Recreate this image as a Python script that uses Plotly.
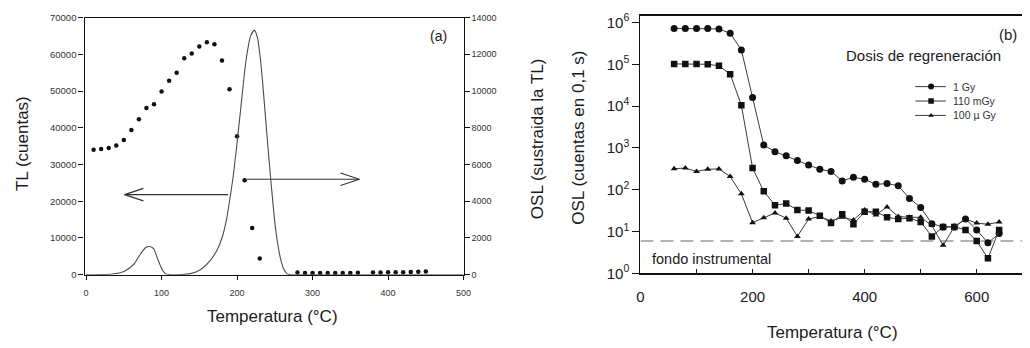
import plotly.graph_objects as go

W, H = 1030, 348
FONT = "Liberation Sans, Arial, sans-serif"
INK = "#1b1b1b"

# ---------------- Panel (a) data ----------------
tl_temp = [10, 20, 30, 40, 50, 60, 70, 80, 90, 100, 110, 120, 130, 140, 150, 160,
           170, 180, 190, 200, 210, 220, 230,
           280, 290, 300, 310, 320, 330, 340, 350, 360,
           380, 390, 400, 410, 420, 430, 440, 450]
tl_counts = [34000, 34200, 34500, 35200, 36700, 39400, 42300, 45400, 46400, 49900,
             52800, 55000, 58900, 60200, 62100, 63300, 62700, 58300, 50500, 37700,
             25700, 12700, 4400,
             600, 500, 450, 500, 500, 500, 500, 500, 550,
             600, 600, 650, 700, 700, 750, 800, 850]

osl_temp = [0, 20, 35, 45, 50, 57, 64, 72, 79, 84, 88, 90, 94, 97, 99, 102, 105, 110,
            120, 130, 138, 147, 155, 164, 173, 180, 186, 190, 195, 199, 205, 212, 218,
            223, 227, 231, 234, 238, 241, 245, 251, 255, 258, 262, 266, 272, 300, 400, 500]
osl_counts = [0, 10, 40, 110, 170, 350, 610, 1130, 1480, 1540, 1470, 1390, 950, 640, 430,
              200, 60, 10, 0, 20, 60, 180, 380, 750, 1300, 2000, 3000, 4000, 5400, 6800,
              9100, 11700, 13000, 13300, 12900, 11700, 10400, 8400, 6900, 5000, 2500,
              1400, 800, 300, 60, 0, 0, 0, 0]

# Arrows of panel (a): (tail temperature, head temperature, TL level)
arrow_left = (188, 51, 21800)
arrow_right = (213, 362, 26000)
arrow_arm_t = 25      # arm length of the open head, in deg C
arrow_arm_tl = 1700   # arm half-spread, in TL counts

# ---------------- Panel (b) data ----------------
b_temp = [60, 80, 100, 120, 140, 160, 180, 200, 220, 240, 260, 280, 300, 320, 340,
          360, 380, 400, 420, 440, 460, 480, 500, 520, 540, 560, 580, 600, 620, 640]
osl_1gy = [7.2e5, 7.2e5, 7.2e5, 7.2e5, 7.0e5, 5.5e5, 2.2e5, 1.6e4, 1170, 815, 650, 500,
           390, 310, 275, 163, 200, 178, 135, 141, 125, 62, 38, 15.5, 13, 13, 20, 11, 5.4, 9]
osl_110mgy = [1.02e5, 1.02e5, 1.02e5, 1.0e5, 9.2e4, 5.8e4, 1.05e4, 330, 92, 43, 47, 33,
              32, 24, 16, 26, 15, 30, 30, 22, 20, 21, 17, 7.7, 13, 13, 11, 6, 2.3, 11]
osl_100ugy = [320, 330, 275, 310, 315, 207, 80, 16.4, 21.4, 28, 21, 7.7, 20, 23, 18, 22,
              19, 33, 25, 39, 23, 22, 22, 14, 4.7, 13, 20, 16, 15, 17]
series_names = ["1 Gy", "110 mGy", "100 \u00b5 Gy"]
series_symbols = ["circle", "square", "triangle-up"]
series_sizes = [7, 6.5, 6]
fondo_level = 6.0

# ticks
a_xticks = [0, 100, 200, 300, 400, 500]
a_yticks = [0, 10000, 20000, 30000, 40000, 50000, 60000, 70000]
a_y2ticks = [0, 2000, 4000, 6000, 8000, 10000, 12000, 14000]
b_xticks = [0, 200, 400, 600]
b_yticks = [1, 10, 100, 1000, 1e4, 1e5, 1e6]
b_yticktext = ["10<sup>%d</sup>" % i for i in range(7)]


def px_x(p):
    return p / W


def px_y(p):
    return 1 - p / H


fig = go.Figure()

# Panel (a)
fig.add_trace(go.Scatter(x=osl_temp, y=osl_counts, mode="lines", xaxis="x", yaxis="y2",
                         line=dict(color="#4a4a4a", width=1.1, shape="spline", smoothing=0.7),
                         showlegend=False))
fig.add_trace(go.Scatter(x=tl_temp, y=tl_counts, mode="markers", xaxis="x", yaxis="y",
                         marker=dict(color="#111", size=4.5), showlegend=False))

for tail, head, lvl in (arrow_left, arrow_right):
    back = arrow_arm_t if head > tail else -arrow_arm_t
    ax_ = [tail, head, None, head - back, head, head - back]
    ay_ = [lvl, lvl, None, lvl + arrow_arm_tl, lvl, lvl - arrow_arm_tl]
    fig.add_trace(go.Scatter(x=ax_, y=ay_, mode="lines", xaxis="x", yaxis="y",
                             line=dict(color="#333", width=1.1), showlegend=False,
                             hoverinfo="skip"))

# Panel (b)
fig.add_trace(go.Scatter(x=[0, 700], y=[fondo_level, fondo_level], mode="lines",
                         xaxis="x2", yaxis="y3",
                         line=dict(color="#9a9a9a", width=1.6, dash="13px,7px"),
                         showlegend=False))
for vals, name, sym, sz in zip([osl_1gy, osl_110mgy, osl_100ugy], series_names,
                               series_symbols, series_sizes):
    fig.add_trace(go.Scatter(x=b_temp, y=vals, mode="lines+markers", name=name,
                             xaxis="x2", yaxis="y3",
                             line=dict(color="#3a3a3a", width=1),
                             marker=dict(symbol=sym, size=sz, color="#111"),
                             showlegend=False))

# Manual legend (aux overlay axes in pixel units)
leg_rows = [84, 99, 114]
leg_line = (922, 953)
leg_mark = 938
for row, name, sym, sz in zip(leg_rows, series_names, series_symbols, series_sizes):
    fig.add_trace(go.Scatter(x=list(leg_line), y=[row, row], mode="lines", xaxis="x3",
                             yaxis="y4", line=dict(color="#3a3a3a", width=1),
                             showlegend=False, hoverinfo="skip"))
    fig.add_trace(go.Scatter(x=[leg_mark], y=[row], mode="markers", xaxis="x3", yaxis="y4",
                             marker=dict(symbol=sym, size=sz - 1, color="#111"),
                             showlegend=False, hoverinfo="skip"))

axis_common = dict(showgrid=False, zeroline=False, linecolor="#111", tickcolor="#111")

small = dict(family=FONT, size=9, color="#333")
big = dict(family=FONT, size=15, color=INK)

fig.update_layout(
    width=W, height=H,
    margin=dict(l=0, r=0, t=0, b=0),
    paper_bgcolor="white", plot_bgcolor="rgba(0,0,0,0)",
    showlegend=False,
    xaxis=dict(domain=[px_x(81.5), px_x(465)], range=[-2, 500], anchor="y",
               tickvals=a_xticks, ticktext=[str(v) for v in a_xticks], tickfont=small,
               ticks="outside", ticklen=4, ticklabelstandoff=5, linewidth=1.4, mirror=True,
               **axis_common),
    yaxis=dict(domain=[px_y(280), px_y(12)], range=[0, 70000], anchor="x",
               tickvals=a_yticks, ticktext=[str(v) for v in a_yticks],
               tickfont=dict(family=FONT, size=9.5, color="#333"),
               ticks="outside", ticklen=5, linewidth=1.4, **axis_common),
    yaxis2=dict(overlaying="y", side="right", anchor="x", range=[0, 14000],
                tickvals=a_y2ticks, ticktext=[str(v) for v in a_y2ticks], tickfont=small,
                ticks="outside", ticklen=5, linewidth=1.4, **axis_common),
    xaxis2=dict(domain=[px_x(644), 1.0], range=[0, 680.8], anchor="y3",
                tickmode="linear", tick0=0, dtick=200, tickfont=big, ticks="inside",
                ticklen=5, ticklabelstandoff=9, linewidth=1.6, mirror=True,
                minor=dict(dtick=100, ticks="inside", ticklen=5, tickcolor="#111"),
                **axis_common),
    yaxis3=dict(domain=[px_y(278.7), px_y(10)], type="log", range=[0, 6.163], anchor="x2",
                tickvals=b_yticks, ticktext=b_yticktext, tickfont=big, ticks="outside",
                ticklen=7, linewidth=1.4, **axis_common),
    xaxis3=dict(domain=[0, 1], range=[0, W], visible=False, anchor="y4", fixedrange=True),
    yaxis4=dict(domain=[0, 1], range=[H, 0], visible=False, anchor="x3", fixedrange=True),
)

# Text annotations
texts = [
    ("TL (cuentas)", 18, 143, 17, -90),
    ("OSL (sustraida la TL)", 540, 138, 17, -90),
    ("OSL (cuentas en 0,1 s)", 581, 137, 17, -90),
    ("Temperatura (\u00b0C)", 272, 324, 17, 0),
    ("Temperatura (\u00b0C)", 838, 340, 17, 0),
    ("(a)", 440, 31, 14, 0),
    ("(b)", 1016, 30, 15, 0),
    ("Dosis de regreneraci\u00f3n", 930, 52, 15, 0),
]
for txt, x, y, size, ang in texts:
    fig.add_annotation(x=px_x(x), y=px_y(y), xref="paper", yref="paper", text=txt,
                       showarrow=False, textangle=ang, xanchor="center", yanchor="middle",
                       font=dict(family=FONT, size=size, color=INK))

fig.add_annotation(x=px_x(654), y=px_y(264), xref="paper", yref="paper",
                   text="fondo instrumental", showarrow=False, xanchor="left",
                   yanchor="middle", font=dict(family=FONT, size=14.5, color=INK))

for row, name in zip(leg_rows, series_names):
    fig.add_annotation(x=px_x(958), y=px_y(row), xref="paper", yref="paper", text=name,
                       showarrow=False, xanchor="left", yanchor="middle",
                       font=dict(family=FONT, size=10.5, color="#333"))

fig.write_html("out.html")
